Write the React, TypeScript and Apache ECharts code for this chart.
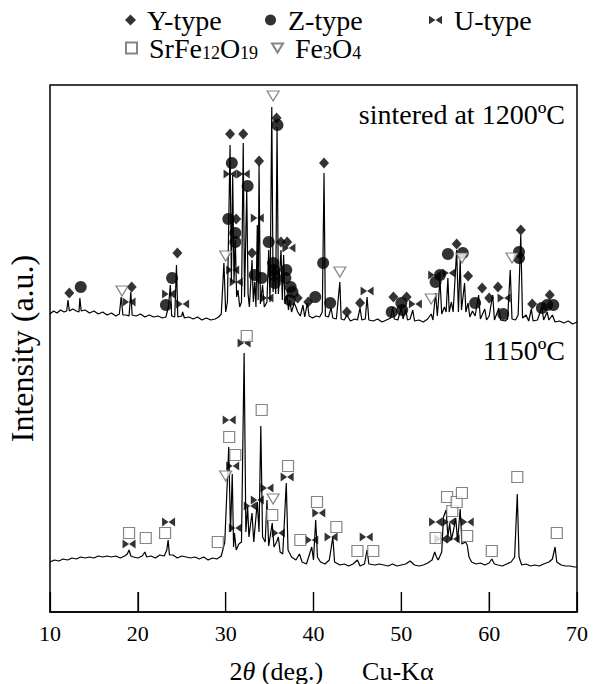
import React, { useEffect, useRef } from 'react';
import * as echarts from 'echarts';

// 2θ (deg.) vs intensity (a.u.)
const xTicks = [10, 20, 30, 40, 50, 60, 70];

const trace1200: number[][] = [
  [10.0, 298], [10.4, 301], [10.8, 299], [11.2, 302], [11.6, 300], [11.9, 301], [12.05, 312], [12.2, 301], [12.6, 303],
  [13.0, 301], [13.3, 300], [13.4, 314], [13.55, 301], [14.0, 302], [14.5, 299], [15.0, 301], [15.5, 298], [16.0, 300],
  [16.5, 297], [17.0, 299], [17.5, 296], [17.9, 298], [18.1, 315], [18.3, 297], [18.7, 297], [19.0, 296], [19.1, 308],
  [19.2, 320], [19.35, 297], [19.8, 296], [20.3, 298], [20.8, 295], [21.3, 297], [21.8, 295], [22.3, 296], [22.8, 294],
  [23.2, 295], [23.5, 306], [23.7, 327], [23.85, 296], [24.2, 295], [24.4, 347], [24.55, 295], [25.0, 296], [25.1, 300],
  [25.3, 294], [25.8, 295], [26.3, 293], [26.8, 295], [27.3, 292], [27.8, 294], [28.3, 292], [28.8, 293], [29.2, 295],
  [29.5, 298], [29.8, 349], [30.0, 300], [30.2, 310], [30.5, 467], [30.65, 330], [30.8, 437], [30.95, 330], [31.1, 372],
  [31.25, 315], [31.4, 322], [31.6, 305], [31.8, 310], [32.0, 469], [32.15, 315], [32.4, 422], [32.55, 318], [32.7, 305],
  [33.0, 352], [33.15, 310], [33.3, 330], [33.45, 305], [33.6, 387], [33.7, 312], [33.8, 447], [33.95, 308], [34.2, 327],
  [34.4, 305], [34.7, 310], [34.9, 362], [35.05, 310], [35.25, 505], [35.4, 320], [35.55, 347], [35.7, 318], [35.85, 485],
  [36.0, 318], [36.3, 362], [36.45, 312], [36.6, 357], [36.75, 308], [37.0, 317], [37.15, 302], [37.3, 312], [37.5, 300],
  [37.8, 309], [38.0, 305], [38.2, 300], [38.5, 296], [38.8, 307], [39.0, 295], [39.3, 309], [39.5, 296], [39.9, 294],
  [40.3, 296], [40.7, 295], [41.0, 300], [41.2, 439], [41.35, 296], [41.7, 295], [42.0, 304], [42.2, 294], [42.6, 293],
  [43.0, 330], [43.15, 293], [43.5, 292], [43.8, 297], [44.2, 291], [44.7, 293], [45.0, 292], [45.3, 304], [45.5, 292],
  [45.9, 293], [46.1, 315], [46.3, 292], [46.8, 291], [47.3, 293], [47.8, 290], [48.3, 292], [48.8, 294], [49.0, 305],
  [49.2, 293], [49.6, 292], [50.0, 304], [50.2, 293], [50.5, 303], [50.7, 292], [51.0, 293], [51.3, 302], [51.5, 291],
  [52.0, 292], [52.5, 290], [53.0, 293], [53.4, 298], [53.6, 292], [53.9, 319], [54.1, 296], [54.4, 332], [54.6, 298],
  [54.9, 305], [55.1, 300], [55.3, 334], [55.45, 300], [55.7, 310], [55.9, 300], [56.3, 362], [56.5, 300], [56.7, 352],
  [56.85, 302], [57.2, 329], [57.35, 300], [57.6, 309], [57.8, 295], [58.1, 301], [58.4, 296], [58.8, 317], [59.0, 293],
  [59.5, 303], [59.7, 292], [60.0, 296], [60.4, 317], [60.6, 292], [61.1, 304], [61.3, 292], [61.8, 291], [62.1, 293],
  [62.4, 342], [62.6, 293], [63.0, 292], [63.3, 297], [63.6, 377], [63.8, 294], [64.2, 297], [64.5, 291], [64.8, 303],
  [65.0, 291], [65.5, 292], [66.0, 305], [66.2, 292], [66.6, 300], [66.8, 292], [67.2, 297], [67.5, 290], [68.0, 291],
  [68.5, 289], [69.0, 291], [69.5, 288], [70.0, 290],
];

const trace1150: number[][] = [
  [10.0, 50], [10.5, 52], [11.0, 51], [11.5, 53], [12.0, 52], [12.5, 54], [13.0, 53], [13.5, 55], [14.0, 54], [14.5, 55],
  [15.0, 54], [15.5, 56], [16.0, 55], [16.5, 56], [17.0, 55], [17.5, 56], [18.0, 54], [18.5, 56], [18.8, 58], [19.0, 62],
  [19.2, 56], [19.5, 55], [20.0, 54], [20.5, 56], [20.8, 60], [21.0, 55], [21.5, 56], [22.0, 54], [22.5, 57], [23.0, 56],
  [23.3, 62], [23.45, 72], [23.6, 57], [24.0, 57], [24.5, 54], [25.0, 56], [25.5, 55], [26.0, 54], [26.5, 55], [27.0, 53],
  [27.5, 55], [28.0, 52], [28.5, 54], [29.0, 53], [29.5, 56], [29.9, 70], [30.35, 165], [30.55, 80], [30.75, 138],
  [30.9, 65], [31.0, 79], [31.2, 62], [31.5, 68], [31.8, 70], [32.1, 259], [32.3, 80], [32.5, 105], [32.65, 75],
  [33.0, 99], [33.2, 70], [33.6, 110], [33.8, 80], [34.0, 186], [34.2, 75], [34.5, 70], [34.7, 112], [34.9, 66],
  [35.3, 89], [35.5, 65], [35.8, 70], [36.0, 75], [36.2, 60], [36.5, 58], [36.9, 129], [37.1, 62], [37.5, 55],
  [38.0, 52], [38.4, 58], [38.7, 50], [39.2, 48], [39.8, 65], [40.0, 52], [40.25, 92], [40.45, 55], [40.8, 50],
  [41.3, 48], [41.8, 52], [42.2, 75], [42.4, 50], [43.0, 47], [43.5, 48], [44.0, 46], [44.5, 48], [45.0, 52], [45.3, 46],
  [45.8, 48], [46.1, 62], [46.3, 48], [47.0, 47], [47.5, 48], [48.0, 47], [48.5, 46], [49.0, 48], [49.5, 46], [50.0, 47],
  [50.5, 48], [51.0, 51], [51.5, 47], [52.0, 46], [52.5, 47], [53.0, 49], [53.5, 52], [53.8, 60], [54.0, 55], [54.2, 52],
  [54.6, 60], [54.8, 95], [55.1, 102], [55.3, 75], [55.5, 89], [55.7, 72], [55.9, 80], [56.2, 94], [56.4, 70],
  [56.7, 103], [56.9, 68], [57.3, 70], [57.5, 67], [57.7, 55], [58.0, 50], [58.5, 48], [59.0, 49], [59.5, 47], [60.0, 49],
  [60.3, 53], [60.6, 48], [61.0, 47], [61.5, 46], [62.0, 48], [62.5, 50], [62.9, 55], [63.2, 118], [63.4, 55], [63.7, 47],
  [64.2, 48], [64.7, 46], [65.2, 47], [65.7, 46], [66.2, 48], [66.8, 50], [67.2, 53], [67.5, 65], [67.7, 50], [68.2, 47],
  [68.7, 46], [69.2, 46], [69.7, 45], [70.0, 45],
];

// phase markers [2θ, intensity]
const yTypeMarks: number[][] = [
  [12.2, 319], [19.3, 325], [24.5, 359], [30.5, 478], [31.2, 393], [32.0, 478], [33.0, 359], [33.8, 451], [35.8, 494],
  [36.3, 370], [37.0, 370], [38.2, 314], [39.4, 310], [41.2, 449], [43.8, 300], [45.3, 309], [49.1, 315], [50.6, 315],
  [56.3, 368], [57.6, 336], [59.2, 324], [60.0, 314], [61.0, 325], [63.6, 382], [64.9, 308], [66.9, 317],
];
const zTypeMarks: number[][] = [
  [13.5, 325], [23.9, 334], [23.2, 307], [30.7, 449], [30.3, 393], [31.1, 379], [31.1, 370], [32.5, 426], [33.3, 337],
  [34.1, 334], [34.9, 370], [35.9, 487], [35.4, 349], [35.5, 342], [35.5, 337], [35.6, 329], [36.9, 342], [36.8, 334],
  [37.4, 325], [37.6, 320], [37.3, 312], [40.2, 315], [41.1, 349], [41.9, 309], [48.9, 300], [50.0, 309], [50.1, 302],
  [53.9, 330], [54.4, 337], [55.3, 358], [57.0, 359], [58.4, 309], [61.6, 298], [63.4, 360], [63.4, 354], [66.0, 304],
  [66.6, 307], [67.3, 307],
];
const uTypeMarks: number[][] = [
  [19.0, 310], [23.5, 318], [25.1, 308], [30.5, 438], [32.0, 438], [30.8, 342], [31.2, 330], [33.6, 394], [34.7, 314],
  [37.2, 364], [46.1, 321], [51.6, 308], [53.8, 337], [55.4, 339], [61.7, 314],
  [19.0, 68], [23.5, 90], [30.4, 192], [30.8, 146], [31.1, 84], [32.1, 269], [32.8, 106], [33.6, 112], [34.7, 124],
  [36.0, 79], [37.0, 135], [39.8, 72], [40.6, 99], [42.0, 75], [46.0, 75], [53.9, 90], [54.5, 73], [55.4, 90], [55.9, 73],
  [57.5, 90],
];
const srFeMarks: number[][] = [
  [19.0, 79], [20.9, 74], [23.1, 79], [29.1, 70], [30.4, 175], [31.1, 157], [32.4, 276], [34.1, 202], [35.3, 97],
  [37.1, 146], [38.5, 72], [40.4, 110], [42.6, 85], [45.0, 61], [46.8, 61], [53.9, 74], [55.2, 115], [55.8, 101],
  [56.3, 110], [56.9, 119], [57.5, 76], [60.3, 61], [63.2, 135], [67.7, 79],
];
const fe3o4Marks: number[][] = [
  [18.2, 321], [30.0, 356], [35.4, 516], [43.0, 340], [53.4, 313], [56.9, 354], [62.6, 354],
  [30.0, 136], [35.4, 113],
];

const SERIF = 'Liberation Serif, Times New Roman, serif';
const BOWTIE = 'path://M0,0L6,4L0,8ZM12,0L6,4L12,8Z';
const TRI_DOWN = 'path://M0,0L12,0L6,10Z';

const GRID = { left: 50, right: 16, top: 85, bottom: 72 };
const W = 593;
const H = 684;
const TICK_LEN = 20;

export default function App() {
  const ref = useRef<HTMLDivElement>(null);
  useEffect(() => {
    const chart = echarts.init(ref.current!, null, { renderer: 'svg' });
    const legendBase = {
      orient: 'horizontal',
      itemGap: 0,
      textStyle: {
        fontFamily: SERIF,
        fontSize: 28,
        color: '#000',
        rich: {
          n: { fontFamily: SERIF, fontSize: 28, color: '#000', lineHeight: 28, verticalAlign: 'middle' },
          sub: { fontFamily: SERIF, fontSize: 18, color: '#000', lineHeight: 8, verticalAlign: 'bottom' },
        },
      },
      selectedMode: false,
      itemWidth: 11,
      itemHeight: 11,
    };
    const fmt = (name: string) => {
      if (name === 'SrFe12O19') return '{n| SrFe}{sub|12}{n|O}{sub|19}';
      if (name === 'Fe3O4') return '{n| Fe}{sub|3}{n|O}{sub|4}';
      return '{n| ' + name + '}';
    };
    chart.setOption({
      animation: false,
      backgroundColor: '#fff',
      textStyle: { fontFamily: SERIF },
      grid: { ...GRID, containLabel: false, outerBoundsMode: 'none' },
      legend: [
        { ...legendBase, data: ['Y-type'], left: 120, top: 1, formatter: fmt },
        { ...legendBase, data: ['Z-type'], left: 260, top: 1, formatter: fmt },
        { ...legendBase, data: ['U-type'], left: 424, top: 1, itemWidth: 13, itemHeight: 9, formatter: fmt },
        { ...legendBase, data: ['SrFe12O19'], left: 120, top: 29, formatter: fmt },
        { ...legendBase, data: ['Fe3O4'], left: 266, top: 29, formatter: fmt },
      ],
      xAxis: {
        type: 'value',
        min: 10,
        max: 70,
        interval: 10,
        axisLine: { show: true, onZero: false, lineStyle: { color: '#000', width: 1.5 } },
        axisTick: { show: true, inside: true, length: TICK_LEN, lineStyle: { color: '#000', width: 1.2 } },
        axisLabel: { color: '#000', fontFamily: SERIF, fontSize: 22, margin: 10, formatter: (v: number) => (xTicks.includes(v) ? String(v) : '') },
        splitLine: { show: false },
        name: '2{i|θ} (deg.)      Cu-Kα',
        nameLocation: 'middle',
        nameGap: 46,
        nameTextStyle: {
          color: '#000', fontFamily: SERIF, fontSize: 26, padding: [0, 0, 0, 36],
          rich: { i: { fontFamily: SERIF, fontStyle: 'italic', fontSize: 26, color: '#000' } },
        },
      },
      yAxis: {
        type: 'value',
        min: 0,
        max: 527,
        axisLine: { show: false },
        axisTick: { show: false },
        axisLabel: { show: false },
        splitLine: { show: false },
        name: 'Intensity (a.u.)',
        nameLocation: 'middle',
        nameRotate: 90,
        nameGap: 12,
        nameTextStyle: { color: '#000', fontFamily: SERIF, fontSize: 32 },
      },
      graphic: [
        {
          type: 'rect',
          silent: true,
          z: 10,
          shape: { x: GRID.left, y: GRID.top, width: W - GRID.left - GRID.right, height: H - GRID.top - GRID.bottom },
          style: { fill: 'none', stroke: '#000', lineWidth: 1.5 },
        },
        { type: 'text', right: 28, top: 100, style: { text: 'sintered at 1200ºC', fontFamily: SERIF, fontSize: 28, fill: '#000' } },
        { type: 'text', right: 28, top: 336, style: { text: '1150ºC', fontFamily: SERIF, fontSize: 28, fill: '#000' } },
      ],
      series: [
        { type: 'line', name: '1200', data: trace1200, showSymbol: false, lineStyle: { color: '#000', width: 1.2 }, z: 2 },
        { type: 'line', name: '1150', data: trace1150, showSymbol: false, lineStyle: { color: '#000', width: 1.2 }, z: 2 },
        { type: 'scatter', name: 'Y-type', data: yTypeMarks, symbol: 'diamond', symbolSize: [10, 11], itemStyle: { color: '#000' }, z: 3 },
        { type: 'scatter', name: 'Z-type', data: zTypeMarks, symbol: 'circle', symbolSize: 12, itemStyle: { color: '#000' }, z: 3 },
        { type: 'scatter', name: 'U-type', data: uTypeMarks, symbol: BOWTIE, symbolSize: [13, 9], itemStyle: { color: '#000' }, z: 3 },
        { type: 'scatter', name: 'SrFe12O19', data: srFeMarks, symbol: 'rect', symbolSize: 11, itemStyle: { color: '#fff', borderColor: '#666', borderWidth: 1.2 }, z: 3 },
        { type: 'scatter', name: 'Fe3O4', data: fe3o4Marks, symbol: TRI_DOWN, symbolSize: [12, 10], itemStyle: { color: '#fff', borderColor: '#666', borderWidth: 1.2 }, z: 3 },
        {
          type: 'scatter',
          name: 'ticks',
          data: xTicks.map((v) => [v, 0]),
          symbol: 'rect',
          symbolSize: [1.3, TICK_LEN],
          symbolOffset: [0, -TICK_LEN / 2],
          itemStyle: { color: '#000' },
          silent: true,
          clip: false,
          z: 4,
        },
      ],
    });
    return () => chart.dispose();
  }, []);
  return <div ref={ref} style={{ position: 'fixed', left: 0, top: 0, width: W, height: H }} />;
}
